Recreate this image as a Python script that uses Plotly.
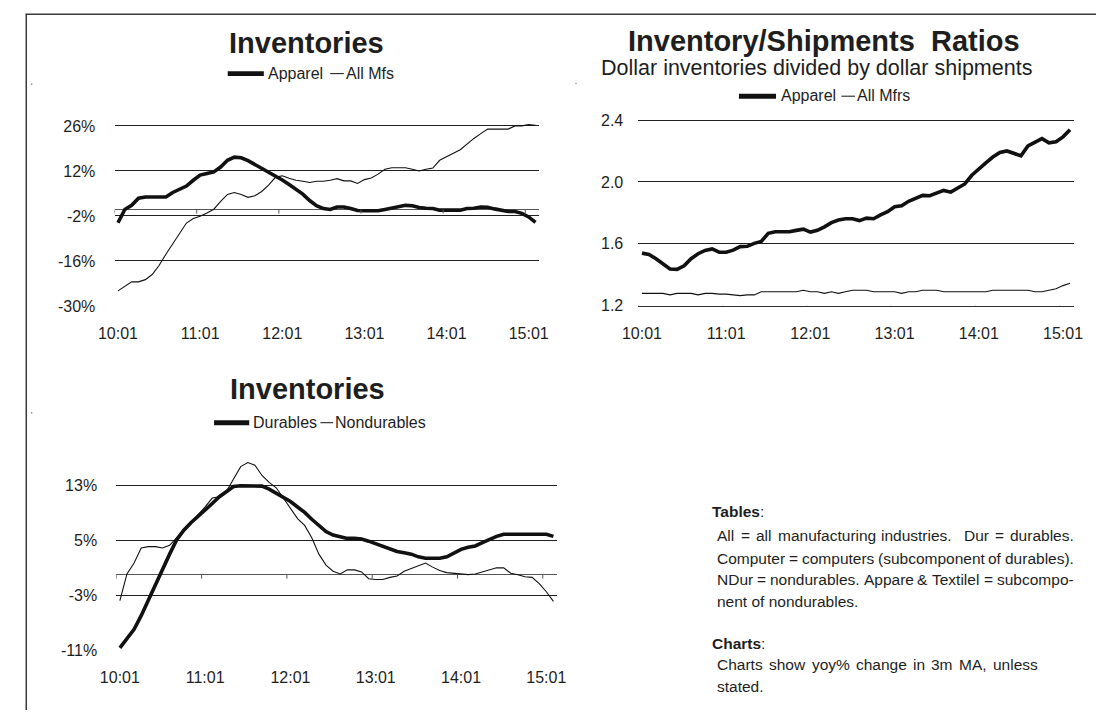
import plotly.graph_objects as go

W, H = 1106, 719
FONT = "Liberation Sans, Arial, Helvetica, sans-serif"
INK = "#1e1e1e"

# Monthly categories, 2010-01 through 2015-02
months = [f"{yy:02d}:{mm:02d}" for yy in range(10, 16) for mm in range(1, 13)][:62]
year_labels = ["10:01", "11:01", "12:01", "13:01", "14:01", "15:01"]

# Inventories, yoy % change (3m MA)
inv_apparel = [-4.1, 0.0, 1.3, 3.5, 3.9, 3.9, 3.9, 3.9, 5.3, 6.3,
               7.3, 9.1, 10.7, 11.2, 11.7, 13.2, 15.3, 16.3, 16.1, 15.2,
               14.0, 12.8, 11.7, 10.6, 9.2, 7.8, 6.3, 4.8, 2.8, 1.2,
               0.3, 0.0, 0.8, 0.8, 0.3, -0.3, -0.4, -0.4, -0.4, 0.0,
               0.5, 1.0, 1.3, 1.2, 0.6, 0.4, 0.3, -0.2, -0.2, -0.2,
               -0.2, 0.3, 0.4, 0.8, 0.7, 0.2, -0.3, -0.6, -0.6, -1.2,
               -2.3, -4.0]
inv_all_mfs = [-25.3, -23.9, -22.5, -22.5, -21.8, -20.2, -17.4, -13.9, -10.6, -7.2,
               -4.2, -2.8, -2.1, -1.1, 0.1, 2.5, 4.7, 5.3, 4.7, 3.8,
               4.3, 5.6, 7.6, 10.0, 10.5, 9.7, 9.1, 8.8, 8.4, 8.8,
               8.8, 9.1, 9.6, 8.9, 8.9, 8.1, 9.3, 9.8, 11.0, 12.5,
               13.0, 13.0, 13.0, 12.5, 12.0, 12.5, 12.9, 15.3, 16.3, 17.5,
               18.6, 20.4, 22.1, 23.6, 25.0, 25.0, 25.0, 25.0, 26.0, 26.0,
               26.4, 26.2]

# Inventory / shipments ratios
ratio_apparel = [1.540, 1.531, 1.504, 1.473, 1.437, 1.435, 1.458, 1.504, 1.536, 1.557,
                 1.567, 1.546, 1.546, 1.559, 1.582, 1.584, 1.603, 1.615, 1.668, 1.678,
                 1.678, 1.678, 1.687, 1.695, 1.676, 1.687, 1.710, 1.737, 1.754, 1.762,
                 1.762, 1.750, 1.766, 1.762, 1.787, 1.808, 1.840, 1.846, 1.875, 1.892,
                 1.913, 1.911, 1.930, 1.945, 1.934, 1.959, 1.987, 2.043, 2.087, 2.123,
                 2.161, 2.190, 2.200, 2.182, 2.169, 2.232, 2.259, 2.280, 2.253, 2.259,
                 2.291, 2.337]
ratio_all_mfrs = [1.28, 1.28, 1.28, 1.28, 1.27, 1.28, 1.28, 1.28, 1.27, 1.28,
                  1.28, 1.275, 1.275, 1.27, 1.265, 1.27, 1.27, 1.29, 1.29, 1.29,
                  1.29, 1.29, 1.29, 1.30, 1.29, 1.29, 1.28, 1.29, 1.28, 1.29,
                  1.30, 1.30, 1.30, 1.29, 1.29, 1.29, 1.29, 1.28, 1.29, 1.29,
                  1.30, 1.30, 1.30, 1.29, 1.29, 1.29, 1.29, 1.29, 1.29, 1.29,
                  1.30, 1.30, 1.30, 1.30, 1.30, 1.30, 1.29, 1.29, 1.30, 1.31,
                  1.33, 1.345]

# Inventories by durability, yoy % change (3m MA)
inv_durables = [-10.7, -9.4, -8.0, -6.0, -3.7, -1.5, 0.7, 3.0, 5.1, 6.5,
                7.6, 8.5, 9.4, 10.4, 11.4, 12.1, 12.9, 13.0, 13.0, 13.0,
                12.95, 12.5, 11.9, 11.4, 10.7, 9.9, 9.1, 8.1, 7.2, 6.3,
                5.8, 5.5, 5.3, 5.3, 5.2, 4.9, 4.5, 4.2, 3.7, 3.4,
                3.2, 3.0, 2.6, 2.4, 2.4, 2.4, 2.6, 3.1, 3.7, 4.0,
                4.2, 4.7, 5.2, 5.6, 5.9, 5.9, 5.9, 5.9, 5.9, 5.9,
                5.9, 5.6]
inv_nondurables = [-3.8, 0.1, 1.7, 3.9, 4.1, 4.1, 3.9, 4.3, 5.4, 6.5,
                   7.6, 8.7, 9.9, 11.2, 11.4, 12.2, 14.0, 15.8, 16.4, 16.0,
                   14.5, 13.5, 12.7, 11.2, 9.8, 8.2, 7.2, 5.4, 3.0, 1.4,
                   0.5, 0.1, 0.7, 0.7, 0.4, -0.6, -0.7, -0.7, -0.4, -0.2,
                   0.5, 0.9, 1.2, 1.7, 1.1, 0.6, 0.3, 0.2, 0.0, 0.0,
                   0.1, 0.4, 0.6, 1.0, 1.0, 0.2, 0.0, -0.3, -0.4, -1.3,
                   -2.5, -3.9]

pct_ticks_top = [26, 12, -2, -16, -30]
ratio_ticks = [1.2, 1.6, 2.0, 2.4]
pct_ticks_bottom = [13, 5, -3, -11]

idx = list(range(len(months)))
year_idx = [months.index(m) for m in year_labels]
boundaries = [i - 0.5 for i in year_idx]          # tick marks sit between categories
x_range = [-0.5, len(months) - 0.5]


def fx(px):
    return px / W


def fy(py):
    return 1 - py / H


def y_domain(py_lo, py_hi, v_lo, v_hi, rng):
    """Paper domain so that v_lo lands at pixel row py_lo and v_hi at py_hi."""
    k = (py_lo - py_hi) / (v_hi - v_lo)
    bottom = py_lo + (v_lo - rng[0]) * k
    top = py_lo - (rng[1] - v_lo) * k
    return [fy(bottom), fy(top)]


tick_font = dict(family=FONT, size=16, color=INK)


def y_axis(domain, anchor, rng, vals, text, gap):
    return dict(domain=domain, anchor=anchor, range=rng, tickmode="array", tickvals=vals,
                ticktext=text, showgrid=True, gridcolor="#202020", gridwidth=1,
                zeroline=False, showline=False, ticks="outside", ticklen=gap,
                tickcolor="rgba(0,0,0,0)", tickfont=tick_font, fixedrange=True)


def x_axis(domain, anchor, line=False):
    return dict(domain=domain, anchor=anchor, range=x_range, tickmode="array",
                tickvals=year_idx, ticktext=year_labels, showgrid=False, zeroline=False,
                showline=line, linecolor="#303030", linewidth=1, ticks="outside",
                ticklen=13, tickcolor="rgba(0,0,0,0)", tickfont=tick_font,
                fixedrange=True)


rng1 = [-30, 28]
rng2 = [1.2, 2.42]
rng3 = [-11, 18]

fig = go.Figure()

THICK = dict(color="#111111", width=3.6)
THIN = dict(color="#111111", width=1.1)

fig.add_trace(go.Scatter(x=idx, y=inv_all_mfs, mode="lines", line=THIN, name="All Mfs",
                         xaxis="x", yaxis="y", showlegend=False))
fig.add_trace(go.Scatter(x=idx, y=inv_apparel, mode="lines", line=THICK, name="Apparel",
                         xaxis="x", yaxis="y", showlegend=False))
fig.add_trace(go.Scatter(x=idx, y=ratio_all_mfrs, mode="lines", line=THIN, name="All Mfrs",
                         xaxis="x2", yaxis="y2", showlegend=False))
fig.add_trace(go.Scatter(x=idx, y=ratio_apparel, mode="lines", line=THICK, name="Apparel",
                         xaxis="x2", yaxis="y2", showlegend=False))
fig.add_trace(go.Scatter(x=idx, y=inv_nondurables, mode="lines", line=THIN, name="Nondurables",
                         xaxis="x3", yaxis="y3", showlegend=False))
fig.add_trace(go.Scatter(x=idx, y=inv_durables, mode="lines", line=THICK, name="Durables",
                         xaxis="x3", yaxis="y3", showlegend=False))

layout = dict(
    width=W, height=H, margin=dict(l=0, r=0, t=0, b=0),
    paper_bgcolor="white", plot_bgcolor="white", showlegend=False,
    font=dict(family=FONT, color=INK),
    xaxis=x_axis([fx(100), fx(535)], "y"),
    yaxis=y_axis(y_domain(307.0, 123.3, -30, 26, rng1), "x", rng1, pct_ticks_top,
                 [f"{v}%" for v in pct_ticks_top], 15),
    xaxis2=x_axis([fx(637), fx(1083)], "y2", line=True),
    yaxis2=y_axis(y_domain(306.7, 117.3, 1.2, 2.4, rng2), "x2", rng2, ratio_ticks,
                  [f"{v:.1f}" for v in ratio_ticks], 11),
    xaxis3=x_axis([fx(101.8), fx(553.5)], "y3"),
    yaxis3=y_axis(y_domain(657.7, 490.3, -11, 13, rng3), "x3", rng3, pct_ticks_bottom,
                  [f"{v}%" for v in pct_ticks_bottom], 15),
)
layout["yaxis"].update(zeroline=True, zerolinecolor="#555555", zerolinewidth=1.2)
layout["yaxis3"].update(zeroline=True, zerolinecolor="#555555", zerolinewidth=1.2)

shapes = []
annotations = []

# Category-boundary tick marks hanging below each category axis
for xr, yr, base, length, col in [("x", "y", 0, 4, "#555555"),
                                  ("x2", "y2", 1.2, 5, "#303030"),
                                  ("x3", "y3", 0, 4, "#555555")]:
    for b in boundaries:
        shapes.append(dict(type="line", xref=xr, yref=yr, x0=b, x1=b,
                           ysizemode="pixel", yanchor=base, y0=0, y1=-length,
                           line=dict(color=col, width=1)))

# Page frame (top and left rules) and small corner marks
shapes.append(dict(type="line", xref="paper", yref="paper", x0=fx(9), x1=1,
                   y0=fy(9.5), y1=fy(9.5), line=dict(color="#3a3a3a", width=1.5)))
shapes.append(dict(type="line", xref="paper", yref="paper", x0=fx(9.5), x1=fx(9.5),
                   y0=0, y1=fy(9), line=dict(color="#3a3a3a", width=1.5)))
for cx, cy in [(15, 80.7), (573, 80), (15, 416)]:
    shapes.append(dict(type="circle", xref="paper", yref="paper",
                       x0=fx(cx - 0.8), x1=fx(cx + 0.8), y0=fy(cy + 0.8), y1=fy(cy - 0.8),
                       fillcolor="#888888", line=dict(width=0)))


def esc(s):
    return s.replace("&", "&amp;")


def text(s, x, y, size, anchor="left", bold=False):
    annotations.append(dict(text=f"<b>{s}</b>" if bold else s, xref="paper", yref="paper",
                            x=fx(x), y=fy(y), xanchor=anchor, yanchor="middle",
                            showarrow=False, borderpad=0,
                            font=dict(family=FONT, size=size, color=INK)))


def legend(y, thick_span, thick_label, thick_x, thin_span, thin_label, thin_x):
    shapes.append(dict(type="rect", xref="paper", yref="paper",
                       x0=fx(thick_span[0]), x1=fx(thick_span[1]),
                       y0=fy(y + 2.5), y1=fy(y - 2.5), fillcolor="#111111",
                       line=dict(width=0)))
    shapes.append(dict(type="line", xref="paper", yref="paper",
                       x0=fx(thin_span[0]), x1=fx(thin_span[1]), y0=fy(y), y1=fy(y),
                       line=dict(color="#111111", width=1)))
    text(thick_label, thick_x, y - 0.5, 16)
    text(thin_label, thin_x, y - 0.5, 16)


# Titles and legends
text("Inventories", 297, 38.5, 29, anchor="center", bold=True)
legend(70, (216, 253), "Apparel", 256, (321, 335), "All Mfs", 336)

text("Inventory/Shipments&nbsp; Ratios", 827, 36.5, 29, anchor="center", bold=True)
text("Dollar inventories divided by dollar shipments", 820, 64.5, 21.5, anchor="center")
legend(93, (740, 778), "Apparel", 782, (845, 859), "All Mfrs", 860)

text("Inventories", 298, 391.5, 29, anchor="center", bold=True)
legend(426, (202, 238), "Durables", 241, (311, 324), "Nondurables", 325)

# Notes block: full-justified lines are set word by word
ADV = {" ": 278, "%": 889, "&": 667, "(": 333, ")": 333, "-": 333, ".": 278, ",": 278,
       ":": 278, "=": 584, "A": 667, "C": 722, "D": 722, "M": 833, "N": 722, "T": 611,
       "a": 556, "b": 556, "c": 500, "d": 556, "e": 556, "f": 278, "g": 556, "h": 556,
       "i": 222, "l": 222, "m": 833, "n": 556, "o": 556, "p": 556, "r": 333, "s": 500,
       "t": 278, "u": 556, "w": 722, "x": 500, "y": 500}


def width(s, size):
    return sum(ADV.get(c, 556) for c in s) * size / 1000.0 * 1.02


def justified(line, x0, x1, y, size):
    words = line.split(" ")
    gap = (x1 - x0 - sum(width(w, size) for w in words)) / (len(words) - 1)
    x = x0
    for w in words:
        if w:
            text(esc(w), x, y, size)
        x += width(w, size) + gap


NOTE = 15.5
text("<b>Tables</b>:", 711, 517, NOTE)
justified("All = all manufacturing industries.  Dur = durables.", 717, 1082, 541, NOTE)
justified("Computer = computers (subcomponent of durables).", 717, 1082, 564, NOTE)
justified("NDur = nondurables. Appare & Textilel = subcompo-", 717, 1082, 586, NOTE)
text("nent of nondurables.", 717, 608, NOTE)
text("<b>Charts</b>:", 711, 651, NOTE)
justified("Charts show yoy% change in 3m MA, unless", 717, 1045, 673, NOTE)
text("stated.", 717, 695, NOTE)

layout["shapes"] = shapes
layout["annotations"] = annotations
fig.update_layout(**layout)

fig.write_html("out.html", config={"displayModeBar": False})
